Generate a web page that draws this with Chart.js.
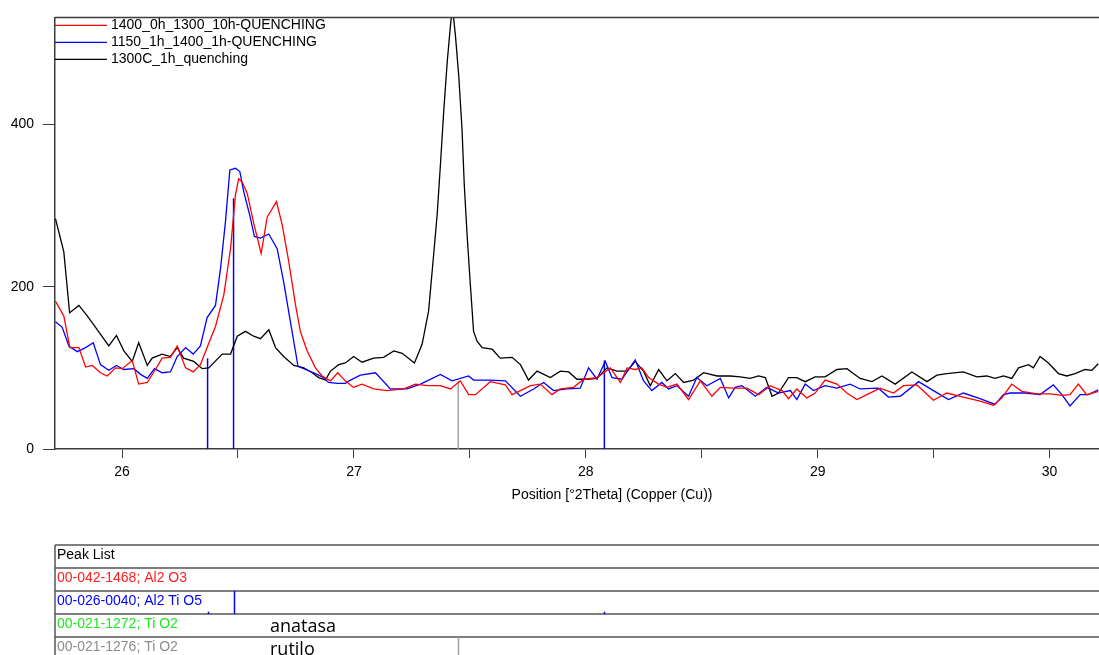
<!DOCTYPE html>
<html>
<head>
<meta charset="utf-8">
<script src="https://cdn.jsdelivr.net/npm/chart.js@4.4.0/dist/chart.umd.min.js"></script>
<style>
  html, body { margin: 0; padding: 0; background: #fff; }
  #wrap { position: relative; width: 1099px; height: 655px; }
</style>
</head>
<body>
<div id="wrap"><canvas id="xrd"></canvas></div>
<script>
// --- scan data (2Theta in degrees, counts) ---
const seriesLabels = ['1400_0h_1300_10h-QUENCHING', '1150_1h_1400_1h-QUENCHING', '1300C_1h_quenching'];

const redX = [25.713,25.749,25.775,25.814,25.843,25.872,25.907,25.936,25.972,26.001,26.044,26.072,26.109,26.144,26.173,26.209,26.238,26.274,26.307,26.338,26.367,26.403,26.439,26.468,26.489,26.503,26.518,26.540,26.568,26.600,26.626,26.643,26.666,26.691,26.719,26.748,26.769,26.798,26.834,26.863,26.899,26.930,26.963,26.985,26.999,27.035,27.085,27.143,27.215,27.265,27.316,27.373,27.416,27.459,27.495,27.524,27.588,27.653,27.682,27.718,27.761,27.804,27.854,27.890,27.947,27.991,28.048,28.106,28.149,28.178,28.213,28.242,28.271,28.314,28.350,28.393,28.443,28.494,28.544,28.580,28.637,28.695,28.745,28.795,28.846,28.874,28.910,28.953,28.989,29.032,29.083,29.126,29.169,29.212,29.269,29.327,29.370,29.428,29.499,29.557,29.628,29.700,29.758,29.794,29.837,29.880,29.945,30.002,30.053,30.088,30.124,30.160,30.210];
const redY = [182,164,125,125,101,103,94,90,100,99,109,80,82,98,112,113,127,100,95,104,125,151,190,247,313,333,329,315,278,241,286,294,305,276,231,178,145,121,100,90,84,94,84,79,76,80,74,72,74,80,78,78,74,84,67,67,83,79,67,72,78,80,67,74,76,86,88,100,82,100,98,100,88,80,76,80,61,84,65,76,75,75,67,78,72,62,74,63,69,85,80,69,61,67,75,69,78,79,60,69,64,59,54,63,80,71,68,68,66,67,80,67,71];

const blueX = [25.713,25.742,25.771,25.807,25.843,25.876,25.907,25.943,25.976,26.008,26.051,26.080,26.109,26.140,26.173,26.209,26.238,26.274,26.307,26.338,26.367,26.403,26.425,26.446,26.465,26.489,26.508,26.525,26.551,26.571,26.597,26.633,26.669,26.697,26.726,26.759,26.791,26.827,26.863,26.891,26.928,26.963,26.985,27.028,27.093,27.157,27.229,27.287,27.373,27.423,27.495,27.516,27.588,27.653,27.718,27.775,27.818,27.861,27.919,27.976,28.012,28.048,28.084,28.113,28.156,28.213,28.249,28.285,28.328,28.357,28.393,28.443,28.479,28.522,28.580,28.616,28.644,28.673,28.731,28.781,28.831,28.882,28.910,28.946,28.982,29.032,29.083,29.140,29.183,29.262,29.305,29.356,29.435,29.499,29.564,29.628,29.700,29.765,29.801,29.830,29.894,29.959,30.016,30.053,30.088,30.132,30.167,30.210];
const blueY = [157,150,127,120,125,131,104,97,103,98,99,92,87,99,94,95,114,125,117,127,162,177,223,280,344,346,342,317,288,262,260,265,247,206,157,102,98,94,89,82,81,81,85,91,94,74,74,80,92,84,90,85,85,84,65,74,82,72,74,75,100,86,108,88,86,110,84,72,82,74,78,65,88,78,87,63,76,78,65,76,69,72,61,80,72,78,75,80,74,75,64,65,83,72,61,69,62,55,67,69,69,67,79,67,53,67,67,73];

const blackX = [25.713,25.749,25.774,25.814,25.850,25.893,25.943,25.976,26.008,26.044,26.072,26.109,26.130,26.173,26.209,26.238,26.266,26.309,26.346,26.374,26.432,26.468,26.497,26.532,26.568,26.597,26.633,26.662,26.697,26.741,26.784,26.820,26.848,26.877,26.899,26.934,26.963,26.999,27.035,27.085,27.128,27.172,27.208,27.261,27.294,27.322,27.344,27.359,27.373,27.387,27.402,27.416,27.425,27.438,27.452,27.466,27.476,27.488,27.502,27.516,27.531,27.553,27.596,27.631,27.682,27.718,27.753,27.790,27.847,27.890,27.926,27.962,28.005,28.048,28.091,28.135,28.178,28.213,28.249,28.278,28.314,28.350,28.386,28.422,28.465,28.508,28.566,28.623,28.666,28.709,28.745,28.774,28.803,28.831,28.874,28.910,28.946,28.989,29.032,29.083,29.126,29.183,29.234,29.277,29.334,29.406,29.471,29.514,29.557,29.628,29.686,29.729,29.765,29.801,29.837,29.866,29.909,29.930,29.959,29.995,30.038,30.074,30.110,30.153,30.182,30.210];
const blackY = [284,243,168,177,164,147,127,140,121,108,131,103,112,117,114,125,112,108,99,100,117,117,139,145,139,136,147,125,114,103,100,94,88,85,96,104,106,114,107,112,113,121,118,106,129,170,240,289,350,415,476,521,545,509,460,395,325,264,203,145,133,125,123,112,113,104,85,96,88,96,95,86,86,87,100,96,96,108,96,78,98,84,93,82,85,94,90,90,89,87,90,88,65,69,88,88,83,89,89,98,99,87,83,90,80,95,83,91,93,95,89,90,87,90,87,100,104,100,114,106,93,90,93,98,97,105];

// reference patterns (stick positions, heights on the plot, relative intensity in the peak list)
const peakListNames = ['00-042-1468; Al2 O3', '00-026-0040; Al2 Ti O5', '00-021-1272; Ti O2', '00-021-1276; Ti O2'];
const phaseNotes = ['', '', 'anatasa', 'rutilo'];
const al2tio5Pos = [26.369, 26.481, 28.080];
const al2tio5Height = [112, 309, 109];
const al2tio5Rel = [10, 100, 10];
const rutilePos = [27.450];
const rutileHeight = [84];
const rutileRel = [100];

// axes
const xMin = 25.711, xMax = 30.213, yMin = 0, yMax = 532;
const xTickValues = [26, 26.5, 27, 27.5, 28, 28.5, 29, 29.5, 30];
const xTickLabels = ['26', '', '27', '', '28', '', '29', '', '30'];
const yTickValues = [0, 200, 400];
const xTitle = 'Position [°2Theta] (Copper (Cu))';

// --- styles ---
const FONT = '"Liberation Sans", Arial, sans-serif';
const seriesColors = ['#ff0000', '#0000ff', '#000000'];
const phaseColors = ['#ff2020', '#0000ff', '#22e622', '#8c8c8c'];
const phaseStickColors = [null, '#0000ff', null, '#a0a0a0'];
const AXIS = '#3c3c3c';

const pts = (xs, ys) => xs.map((x, i) => ({ x, y: ys[i] }));
const sticks = (xs, ys) => xs.flatMap((x, i) => [{ x, y: 0 }, { x, y: ys[i] }, { x, y: null }]);

const legendPlugin = {
  id: 'xrdLegend',
  afterDraw(chart) {
    const { ctx, chartArea } = chart;
    ctx.save();
    ctx.font = '14px ' + FONT;
    ctx.textBaseline = 'middle';
    seriesLabels.forEach((lab, i) => {
      const y = chartArea.top + 8 + i * 17;
      ctx.strokeStyle = seriesColors[i];
      ctx.lineWidth = 1.3;
      ctx.beginPath(); ctx.moveTo(chartArea.left, y); ctx.lineTo(chartArea.left + 52, y); ctx.stroke();
      ctx.fillStyle = '#000';
      ctx.fillText(lab, chartArea.left + 56, y);
    });
    ctx.restore();
  }
};

// top frame line of the plot + axis title (the original plot runs past the right edge,
// so the title sits right of the visible centre)
const framePlugin = {
  id: 'frame',
  afterDraw(chart) {
    const { ctx, chartArea, width } = chart;
    ctx.save();
    ctx.strokeStyle = AXIS; ctx.lineWidth = 1.5;
    ctx.beginPath(); ctx.moveTo(chartArea.left, chartArea.top); ctx.lineTo(width, chartArea.top); ctx.stroke();
    ctx.font = '14px ' + FONT;
    ctx.fillStyle = '#000';
    ctx.textAlign = 'center';
    ctx.textBaseline = 'middle';
    ctx.fillText(xTitle, chartArea.left + 557, chartArea.bottom + 46);
    ctx.restore();
  }
};

// "Peak List" table under the plot, marks placed by the x scale
const peakListPlugin = {
  id: 'peakList',
  afterDraw(chart) {
    const { ctx, chartArea, width, height } = chart;
    const xs = chart.scales.x;
    const left = chartArea.left;
    const top = chartArea.bottom + 96;
    const rowH = 23;
    ctx.save();
    ctx.strokeStyle = '#555'; ctx.lineWidth = 1.5;
    for (let k = 0; k <= 4; k++) {
      const y = top + k * rowH;
      ctx.beginPath(); ctx.moveTo(left, y); ctx.lineTo(width, y); ctx.stroke();
    }
    ctx.beginPath(); ctx.moveTo(left, top); ctx.lineTo(left, height); ctx.stroke();

    ctx.font = '14px ' + FONT;
    ctx.textBaseline = 'middle';
    ctx.fillStyle = '#000';
    ctx.fillText('Peak List', left + 2, top + 10);
    const marks = [null, [al2tio5Pos, al2tio5Rel], null, [rutilePos, rutileRel]];
    peakListNames.forEach((name, r) => {
      const rowTop = top + (r + 1) * rowH;
      ctx.font = '14px ' + FONT;
      ctx.fillStyle = phaseColors[r];
      ctx.fillText(name, left + 2, rowTop + 10);
      if (marks[r]) {
        const [pos, rel] = marks[r];
        ctx.strokeStyle = phaseStickColors[r]; ctx.lineWidth = 1.5;
        pos.forEach((p, i) => {
          const px = Math.round(xs.getPixelForValue(p)) + 0.5;
          const yb = rowTop + rowH;
          ctx.beginPath(); ctx.moveTo(px, yb); ctx.lineTo(px, yb - rowH * rel[i] / 100); ctx.stroke();
        });
      }
      if (phaseNotes[r]) {
        ctx.font = '18px "Open Sans", Lato, sans-serif';
        ctx.fillStyle = '#000';
        ctx.fillText(phaseNotes[r], left + 215, rowTop + 13);
      }
    });
    ctx.restore();
  }
};

const lineDs = (label, data, color) => ({
  label, data, borderColor: color, borderWidth: 1.3, pointRadius: 0, tension: 0, fill: false
});

new Chart(document.getElementById('xrd'), {
  type: 'line',
  data: {
    datasets: [
      lineDs(seriesLabels[0], pts(redX, redY), seriesColors[0]),
      lineDs(seriesLabels[1], pts(blueX, blueY), seriesColors[1]),
      lineDs(seriesLabels[2], pts(blackX, blackY), seriesColors[2]),
      { ...lineDs('Al2 Ti O5', sticks(al2tio5Pos, al2tio5Height), '#0000ff'), borderWidth: 1.5, spanGaps: false },
      { ...lineDs('Ti O2 rutilo', sticks(rutilePos, rutileHeight), '#a0a0a0'), borderWidth: 1.5, spanGaps: false }
    ]
  },
  options: {
    responsive: true,
    maintainAspectRatio: false,
    devicePixelRatio: 1,
    animation: false,
    layout: { padding: { top: 15, right: 0, bottom: 152, left: 0 } },
    plugins: { legend: { display: false }, tooltip: { enabled: false } },
    scales: {
      x: {
        type: 'linear', position: 'bottom', min: xMin, max: xMax,
        afterBuildTicks: (s) => { s.ticks = xTickValues.map(v => ({ value: v })); },
        afterFit: (s) => { s.height = 54; },
        grid: { drawOnChartArea: false, drawTicks: true, tickLength: 9, color: AXIS },
        border: { display: true, color: AXIS, width: 1.5 },
        ticks: {
          autoSkip: false, maxRotation: 0, padding: 6, color: '#000',
          font: { family: FONT, size: 14 },
          callback: (v) => { const i = xTickValues.indexOf(v); return i >= 0 ? xTickLabels[i] : ''; }
        },
        title: { display: false }
      },
      y: {
        type: 'linear', min: yMin, max: yMax,
        afterBuildTicks: (s) => { s.ticks = yTickValues.map(v => ({ value: v })); },
        afterFit: (s) => { s.width = 55; },
        grid: { drawOnChartArea: false, drawTicks: true, tickLength: 12, color: AXIS },
        border: { display: true, color: AXIS, width: 1.5 },
        ticks: { padding: 9, color: '#000', font: { family: FONT, size: 14 } }
      }
    }
  },
  plugins: [legendPlugin, framePlugin, peakListPlugin]
});
</script>
</body>
</html>
